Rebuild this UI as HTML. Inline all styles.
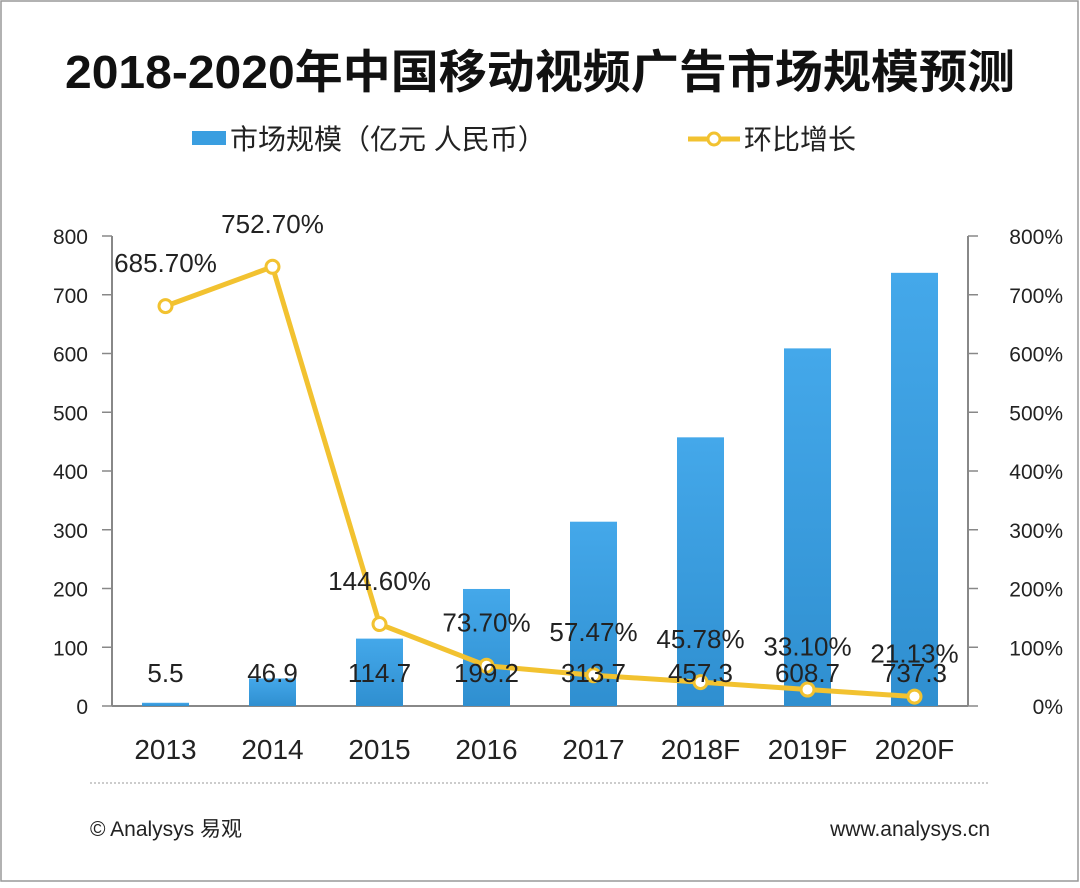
<!DOCTYPE html>
<html><head><meta charset="utf-8"><style>
body{margin:0;background:#fff}
svg text{font-family:"Liberation Sans","Noto Sans CJK SC",sans-serif}
</style></head><body>
<svg width="1080" height="883" viewBox="0 0 1080 883">
<rect x="1" y="1" width="1077" height="880" fill="#fff" stroke="#999" stroke-width="1.5"/>
<text x="540" y="88" text-anchor="middle" font-size="46" font-weight="bold" fill="#111" textLength="950" lengthAdjust="spacingAndGlyphs">2018-2020年中国移动视频广告市场规模预测</text>
<g>
<rect x="192" y="131" width="34" height="14" fill="#3a9ee0"/>
<text x="230" y="149" font-size="28" fill="#222">市场规模（亿元 人民币）</text>
<line x1="688" y1="139" x2="740" y2="139" stroke="#f2c230" stroke-width="5"/>
<circle cx="714" cy="139" r="6" fill="#fff" stroke="#f2c230" stroke-width="3"/>
<text x="744" y="149" font-size="28" fill="#222">环比增长</text>
</g>
<g id="plot"></g>
<line x1="90" y1="783" x2="990" y2="783" stroke="#bbb" stroke-width="1.5" stroke-dasharray="2,2"/>
<text x="90" y="836" font-size="21" fill="#222">© Analysys 易观</text>
<text x="990" y="836" text-anchor="end" font-size="21" fill="#222">www.analysys.cn</text>
</svg>
<script>
const categories=["2013","2014","2015","2016","2017","2018F","2019F","2020F"];
const marketSize=[5.5,46.9,114.7,199.2,313.7,457.3,608.7,737.3];
const growth=[685.70,752.70,144.60,73.70,57.47,45.78,33.10,21.13];
const leftTicks=[0,100,200,300,400,500,600,700,800];
const rightTicks=[0,100,200,300,400,500,600,700,800];
const NS="http://www.w3.org/2000/svg";
const g=document.getElementById('plot');
const X0=112,X1=968,Y0=706,Y1=236;
const band=(X1-X0)/categories.length;
const xc=i=>X0+band*(i+0.5);
const yL=v=>Y0-(v/800)*(Y0-Y1);
const yR=v=>Y0-(v/800)*(Y0-Y1)+3;
function mk(t,a,txt){const e=document.createElementNS(NS,t);for(const k in a)e.setAttribute(k,a[k]);if(txt!==undefined)e.textContent=txt;g.appendChild(e);return e;}
let e;
e=mk('line',{x1:X0,y1:Y1,x2:X0,y2:Y0,stroke:'#888','stroke-width':2});


e=mk('line',{x1:X1,y1:Y1,x2:X1,y2:Y0,stroke:'#888','stroke-width':2});


e=mk('line',{x1:X0,y1:Y0,x2:X1,y2:Y0,stroke:'#888','stroke-width':2});


leftTicks.forEach(v=>{
 mk('line',{x1:X0-10,y1:yL(v),x2:X0,y2:yL(v),stroke:'#888','stroke-width':1.5});
 e=mk('text',{x:88,y:yL(v)+8,'text-anchor':'end','font-size':21,fill:'#222'},String(v));
 
 
});
rightTicks.forEach(v=>{
 mk('line',{x1:X1,y1:yL(v),x2:X1+10,y2:yL(v),stroke:'#888','stroke-width':1.5});
 e=mk('text',{x:1063,y:yL(v)+8,'text-anchor':'end','font-size':21,fill:'#222'},v+'%');
 
 
});
const defs=document.createElementNS(NS,'defs');
defs.innerHTML='<linearGradient id="bg" x1="0" y1="0" x2="0" y2="1"><stop offset="0" stop-color="#44a8ea"/><stop offset="1" stop-color="#2f8fd0"/></linearGradient>';
g.appendChild(defs);
categories.forEach((c,i)=>{
 e=mk('rect',{x:xc(i)-23.5,y:yL(marketSize[i]),width:47,height:Y0-yL(marketSize[i]),fill:'url(#bg)'});
 
 
 e=mk('text',{x:xc(i),y:759,'text-anchor':'middle','font-size':28,fill:'#222'},c);
 
 
});
e=mk('polyline',{points:growth.map((v,i)=>xc(i)+','+yR(v)).join(' '),fill:'none',stroke:'#f2c230','stroke-width':5,'stroke-linejoin':'round'});


growth.forEach((v,i)=>{
 e=mk('circle',{cx:xc(i),cy:yR(v),r:6.5,fill:'#fff',stroke:'#f2c230','stroke-width':3});
 
 
});
categories.forEach((c,i)=>{
 e=mk('text',{x:xc(i),y:682,'text-anchor':'middle','font-size':26,fill:'#222'},String(marketSize[i]));
 
 
});
growth.forEach((v,i)=>{
 e=mk('text',{x:xc(i),y:yR(v)-34,'text-anchor':'middle','font-size':26,fill:'#222'},v.toFixed(2)+'%');
 
 
});
</script>
</body></html>
